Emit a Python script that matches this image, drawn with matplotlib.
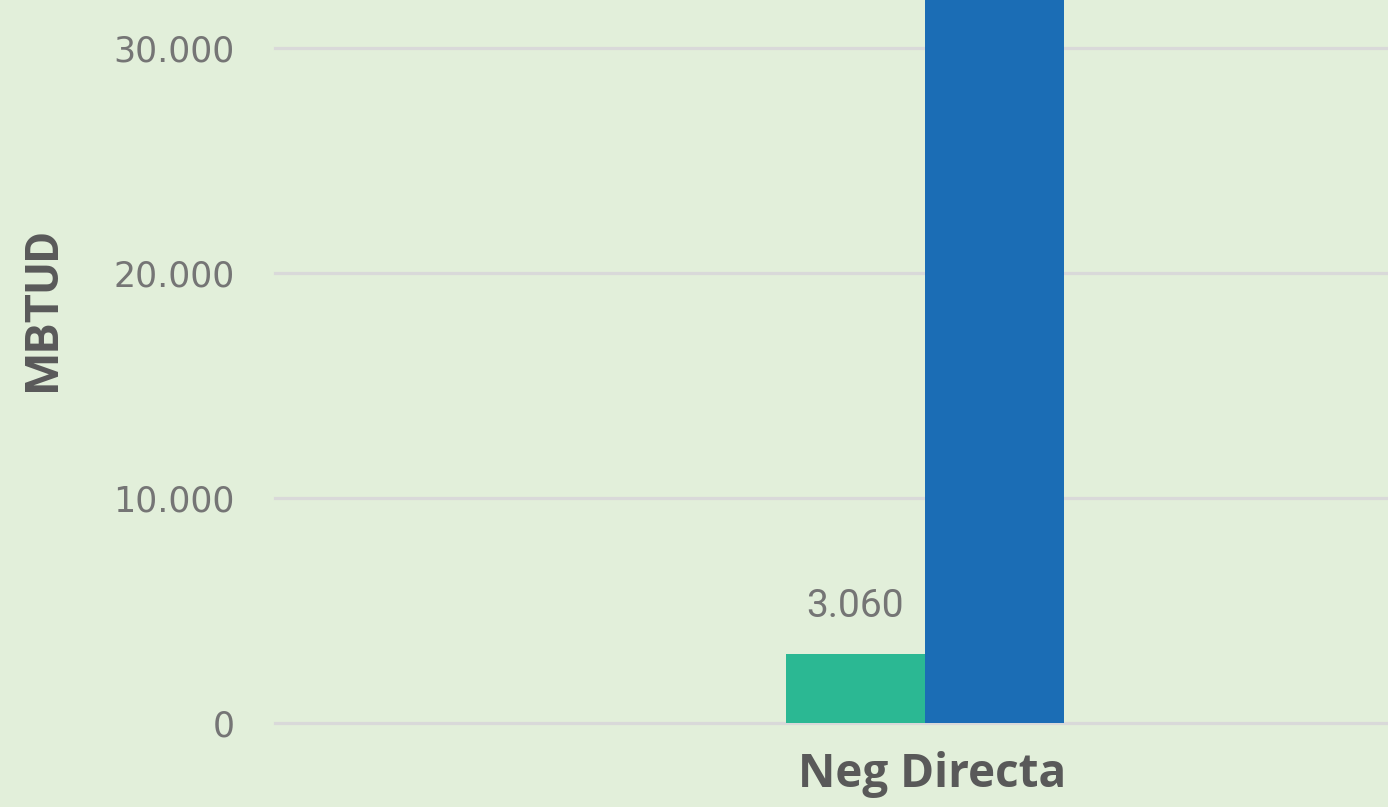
import matplotlib as mpl
import matplotlib.pyplot as plt
import numpy as np

mpl.rcParams["font.family"] = ["Open Sans", "DejaVu Sans"]

# data
categories = ["Neg Directa"]
serie_a = [3060]      # green
serie_b = [33000]     # blue, runs off the top of the picture
labels_a = ["3.060"]
yticks = [0, 10000, 20000, 30000]
ytick_labels = ["0", "10.000", "20.000", "30.000"]

bg = "#E2EFDA"
green = "#2BB893"
blue = "#1B6DB5"

fig = plt.figure(figsize=(13.88, 8.07), dpi=100, facecolor=bg)
ax = fig.add_axes([275 / 1388, 84 / 807, 1300 / 1388, 723 / 807], facecolor=bg)

x = np.arange(len(categories))
w = 0.107
ax.bar(x - w / 2, serie_a, width=w, color=green, zorder=3)
ax.bar(x + w / 2, serie_b, width=w, color=blue, zorder=3)

for xi, v, t in zip(x, serie_a, labels_a):
    ax.annotate(t, (xi - w / 2, v), xytext=(0, 21), textcoords="offset points",
                ha="center", va="bottom", fontsize=28, color="#757575",
                family="Roboto")

ax.set_xlim(-0.5, 0.5)
ax.set_ylim(0, 32133)
ax.set_yticks(yticks)
ax.set_yticklabels(ytick_labels, family="DejaVu Sans", fontsize=25, color="#757575")
ax.set_xticks([])
# category names, nudged a little right like the original
for xi, c in zip(x, categories):
    ax.annotate(c, (xi, 0), xycoords=("data", "axes fraction"),
                xytext=(5, -20), textcoords="offset points",
                ha="center", va="top", fontsize=33, fontweight="bold",
                color="#595959")
ax.tick_params(axis="y", length=0, pad=29)
ax.grid(axis="y", color="#D9D9D9", linewidth=2.3, zorder=0)
for gl in ax.get_ygridlines():
    gl.set_clip_on(False)
for s in ax.spines.values():
    s.set_visible(False)

fig.text(43 / 1388, 1 - 310 / 807, "MBTUD", rotation=90, ha="center", va="center",
         fontsize=34, fontweight="bold", color="#595959", family="Roboto")

fig.savefig("out.png", dpi=100, facecolor=bg)
